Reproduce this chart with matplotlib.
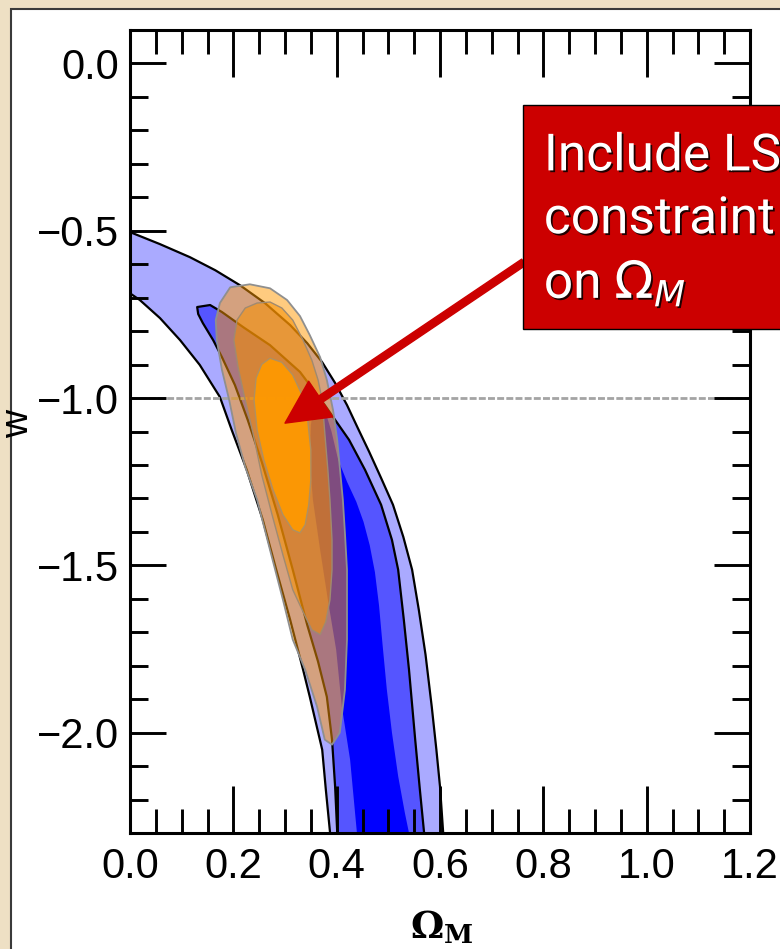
import matplotlib.pyplot as plt
import matplotlib.patheffects as pe
from matplotlib.patches import Rectangle
from matplotlib.ticker import MultipleLocator

plt.rcParams['font.family'] = ['Liberation Sans', 'DejaVu Sans']

# SN contours in the (Omega_M, w) plane: outer, middle and inner levels
sn_outer_om = [0.000, 0.058, 0.116, 0.165, 0.213, 0.261, 0.310, 0.343, 0.372, 0.397, 0.420, 0.441,
               0.463, 0.486, 0.509, 0.529, 0.546, 0.559, 0.572, 0.584, 0.593, 0.600, 0.606, 0.608,
               0.389, 0.387, 0.379, 0.372, 0.348, 0.335, 0.310, 0.283, 0.257, 0.226, 0.197,
               0.174, 0.135, 0.097, 0.058, 0.019, 0.000]
sn_outer_w = [-0.504, -0.540, -0.579, -0.618, -0.663, -0.716, -0.782, -0.836, -0.893, -0.955, -1.021, -1.090,
              -1.161, -1.239, -1.319, -1.415, -1.513, -1.633, -1.767, -1.922, -2.051, -2.161, -2.296, -2.349,
              -2.349, -2.296, -2.170, -2.051, -1.893, -1.812, -1.663, -1.513, -1.364, -1.215, -1.096,
              -0.997, -0.901, -0.827, -0.761, -0.707, -0.687]

sn_mid_om = [0.130, 0.155, 0.178, 0.219, 0.271, 0.329, 0.377, 0.424, 0.455, 0.486, 0.507, 0.519,
             0.530, 0.540, 0.552, 0.561, 0.569, 0.571,
             0.403, 0.401, 0.397, 0.391, 0.381, 0.364, 0.343, 0.315, 0.286, 0.255, 0.228,
             0.203, 0.178, 0.161, 0.141, 0.132]
sn_mid_w = [-0.728, -0.722, -0.743, -0.788, -0.842, -0.922, -1.021, -1.125, -1.215, -1.319, -1.424, -1.513,
            -1.663, -1.812, -2.021, -2.170, -2.296, -2.349,
            -2.349, -2.296, -2.161, -2.021, -1.893, -1.788, -1.678, -1.513, -1.349, -1.191, -1.066,
            -0.961, -0.878, -0.827, -0.776, -0.749]

sn_inner_om = [0.366, 0.378, 0.390, 0.403, 0.420, 0.438, 0.452, 0.464, 0.474, 0.482, 0.489, 0.497,
               0.507, 0.519, 0.532, 0.540, 0.543,
               0.441, 0.439, 0.426, 0.410, 0.399, 0.383, 0.368, 0.354, 0.348, 0.350, 0.356]
sn_inner_w = [-0.995, -1.040, -1.100, -1.185, -1.250, -1.310, -1.370, -1.440, -1.520, -1.620, -1.740, -1.870,
              -2.000, -2.130, -2.240, -2.300, -2.349,
              -2.349, -2.296, -2.081, -1.922, -1.752, -1.603, -1.454, -1.304, -1.185, -1.081, -1.021]

# SN + LSS contours
lss_outer_om = [0.194, 0.232, 0.271, 0.304, 0.329, 0.348, 0.368, 0.381, 0.393, 0.401, 0.406, 0.412,
                0.416, 0.420, 0.420, 0.420, 0.416, 0.406, 0.391, 0.377, 0.362, 0.339, 0.315, 0.296,
                0.271, 0.246, 0.223, 0.205, 0.192, 0.178, 0.168, 0.166, 0.174]
lss_outer_w = [-0.669, -0.660, -0.672, -0.707, -0.755, -0.812, -0.878, -0.946, -1.036, -1.125, -1.206, -1.304,
               -1.403, -1.513, -1.603, -1.722, -1.872, -2.000, -2.036, -2.021, -1.922, -1.812, -1.722, -1.603,
               -1.454, -1.304, -1.206, -1.104, -1.006, -0.916, -0.827, -0.767, -0.716]

lss_mid_om = [0.246, 0.271, 0.294, 0.315, 0.335, 0.352, 0.364, 0.372, 0.377, 0.383, 0.387, 0.391,
              0.391, 0.387, 0.379, 0.368, 0.352, 0.335, 0.315, 0.296, 0.275, 0.255, 0.238, 0.223,
              0.209, 0.201, 0.207, 0.223]
lss_mid_w = [-0.716, -0.713, -0.731, -0.767, -0.827, -0.887, -0.946, -1.006, -1.104, -1.215, -1.304, -1.424,
             -1.513, -1.603, -1.669, -1.707, -1.693, -1.639, -1.573, -1.469, -1.349, -1.230, -1.104, -1.006,
             -0.907, -0.827, -0.767, -0.731]

lss_inner_om = [0.271, 0.294, 0.315, 0.333, 0.344, 0.350, 0.350, 0.346, 0.339, 0.329, 0.315, 0.296,
                0.277, 0.259, 0.246, 0.240, 0.244, 0.255]
lss_inner_w = [-0.881, -0.893, -0.931, -0.991, -1.066, -1.155, -1.245, -1.319, -1.379, -1.403, -1.394, -1.349,
               -1.275, -1.185, -1.096, -1.006, -0.940, -0.899]

w_lambda = -1.0

fig = plt.figure(figsize=(7.8, 9.49), dpi=100, facecolor='#eee0c4')

# white slide panel behind the plot
panel = Rectangle((11 / 780, -0.05), 1.0, 1.05 - 9 / 949, transform=fig.transFigure,
                  facecolor='white', edgecolor='#3a3a3a', linewidth=1.5, zorder=-1)
fig.add_artist(panel)

ax = fig.add_axes([130 / 780, (949 - 833) / 949, 620 / 780, 803 / 949])
ax.set_facecolor('white')

# SN band
ax.fill(sn_outer_om, sn_outer_w, facecolor='#aaaaff', edgecolor='black', linewidth=1.6, joinstyle='round', zorder=1)
ax.fill(sn_mid_om, sn_mid_w, facecolor='#5555ff', edgecolor='black', linewidth=1.6, joinstyle='round', zorder=1.1)
ax.fill(sn_inner_om, sn_inner_w, facecolor='#0000ff', edgecolor='none', zorder=1.2)

ax.axhline(w_lambda, color='#a4a4a4', linewidth=2.0, linestyle=(0, (2.5, 0.8)), zorder=1.3)

# combined constraints
ax.fill(lss_outer_om, lss_outer_w, facecolor=(1.0, 0.6, 0.0, 0.5), edgecolor='#8f8f8f', linewidth=1.3,
        joinstyle='round', zorder=1.4)
ax.fill(lss_mid_om, lss_mid_w, facecolor=(0.97, 0.56, 0.0, 0.55), edgecolor='#a08a70', linewidth=1.0,
        joinstyle='round', zorder=1.5)
ax.fill(lss_inner_om, lss_inner_w, facecolor=(1.0, 0.6, 0.0, 0.92), edgecolor='#b09060', linewidth=1.0,
        joinstyle='round', zorder=1.6)

ax.set_xlim(0, 1.2)
ax.set_ylim(-2.3, 0.1)
ax.xaxis.set_major_locator(MultipleLocator(0.2))
ax.xaxis.set_minor_locator(MultipleLocator(0.05))
ax.yaxis.set_major_locator(MultipleLocator(0.5))
ax.yaxis.set_minor_locator(MultipleLocator(0.1))

ax.tick_params(axis='x', which='major', direction='in', length=34, width=2.1, top=True, bottom=True,
               pad=10, labelsize=30)
ax.tick_params(axis='x', which='minor', direction='in', length=17, width=2.1, top=True, bottom=True)
ax.tick_params(axis='y', which='major', direction='in', length=26, width=2.1, left=True, right=True,
               pad=8, labelsize=30)
ax.tick_params(axis='y', which='minor', direction='in', length=13, width=2.1, left=True, right=True)
for s in ax.spines.values():
    s.set_linewidth(2.2)

ax.set_xlabel(r'$\mathbf{\Omega_M}$', fontsize=27, math_fontfamily='dejavuserif')
ax.xaxis.set_label_coords(0.503, -0.094)
ax.set_ylabel('w', fontsize=28)
ax.yaxis.set_label_coords(-0.152, 0.51)

# callout box with arrow
ax.annotate('', xy=(0.300, -1.075), xytext=(0.762, -0.594),
            arrowprops=dict(arrowstyle='simple,head_length=1.0,head_width=1.0,tail_width=0.17',
                            mutation_scale=31, color='#cc0000', shrinkA=0, shrinkB=0),
            zorder=4, annotation_clip=False)
box = Rectangle((0.7606, -0.794), 0.6, 0.669, facecolor='#cc0000', edgecolor='black',
                linewidth=1.0, zorder=5, clip_on=False)
ax.add_patch(box)
ax.text(0.801, -0.203, 'Include LSS\nconstraint\non $\\Omega_M$', color='white', fontsize=37,
        family='Roboto', ha='left', va='top', linespacing=1.33, zorder=6, clip_on=False,
        math_fontfamily='dejavusans',
        path_effects=[pe.withSimplePatchShadow(offset=(1.3, -1.3), shadow_rgbFace='black', alpha=0.85)])

fig.savefig('out.png', dpi=100, facecolor=fig.get_facecolor())
